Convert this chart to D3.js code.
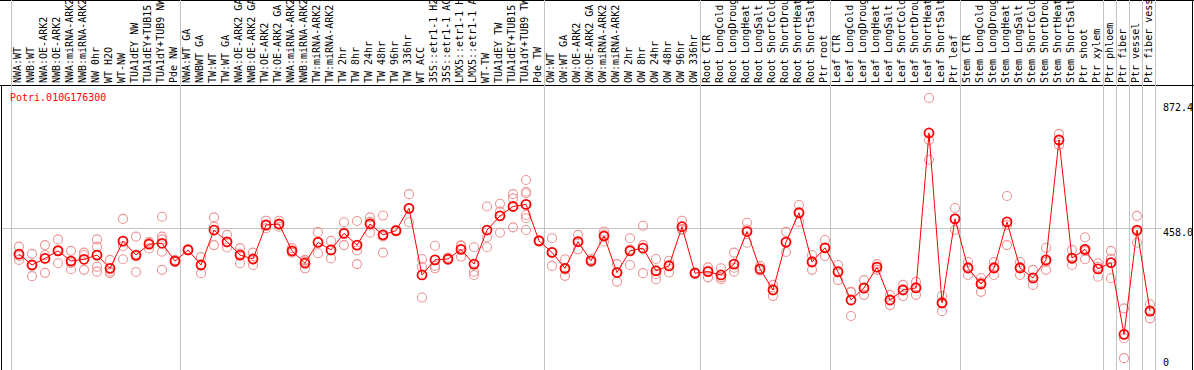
<!DOCTYPE html>
<html>
<head>
<meta charset="utf-8">
<script src="https://cdn.jsdelivr.net/npm/d3@7"></script>
<style>
  body { margin: 0; background: #fff; }
  svg { display: block; }
  text { font-family: "DejaVu Sans Mono", monospace; font-size: 10px; }
</style>
</head>
<body>
<div id="chart"></div>
<script>
// expression profile, one gene

const geneId = "Potri.010G176300";

const samples = [
    "NWA:WT", "NWB:WT", "NWA:OE-ARK2", "NWB:OE-ARK2", "NWA:miRNA-ARK2", "NWB:miRNA-ARK2",
    "NW 0hr", "WT H2O", "WT-NW", "TUA1dEY NW", "TUA1dEY+TUB15 NW", "TUA1dY+TUB9 NW", "Pde NW",
    "NWA:WT GA", "NWBWT GA", "TW:WT", "TW:WT GA", "NWA:OE-ARK2 GA", "NWB:OE-ARK2 GA",
    "TW:OE-ARK2", "TW:OE-ARK2 GA", "NWA:miRNA-ARK2 GA", "NWB:miRNA-ARK2 GA", "TW:miRNA-ARK2",
    "TW:miRNA-ARK2 GA", "TW 2hr", "TW 8hr", "TW 24hr", "TW 48hr", "TW 96hr", "TW 336hr", "WT ACC",
    "35S::etr1-1 H2O", "35S::etr1-1 ACC", "LMX5::etr1-1 H2O", "LMX5::etr1-1 ACC", "WT-TW",
    "TUA1dEY TW", "TUA1dEY+TUB15 TW", "TUA1dY+TUB9 TW", "Pde TW",
    "OW:WT", "OW:WT GA", "OW:OE-ARK2", "OW:OE-ARK2 GA", "OW:miRNA-ARK2", "OW:miRNA-ARK2 GA",
    "OW 2hr", "OW 8hr", "OW 24hr", "OW 48hr", "OW 96hr", "OW 336hr",
    "Root CTR", "Root LongCold", "Root LongDrought", "Root LongHeat", "Root LongSalt",
    "Root ShortCold", "Root ShortDrought", "Root ShortHeat", "Root ShortSalt", "Ptr root",
    "Leaf CTR", "Leaf LongCold", "Leaf LongDrought", "Leaf LongHeat", "Leaf LongSalt",
    "Leaf ShortCold", "Leaf ShortDrought", "Leaf ShortHeat", "Leaf ShortSalt", "Ptr leaf",
    "Stem CTR", "Stem LongCold", "Stem LongDrought", "Stem LongHeat", "Stem LongSalt",
    "Stem ShortCold", "Stem ShortDrought", "Stem ShortHeat", "Stem ShortSalt", "Ptr shoot",
    "Ptr xylem", "Ptr phloem", "Ptr fiber", "Ptr vessel", "Ptr fiber vessel"
];

// how many samples sit between two grey separators
const groupSizes = [13, 28, 12, 10, 10, 11, 1, 1, 1, 1];

const means = [
    371, 335, 357, 382, 348, 354, 368, 324, 414, 368, 404, 407, 348,
    385, 335, 451, 412, 368, 355, 468, 471, 382, 341, 410, 385, 440, 401, 471, 435,
    449, 523, 302, 352, 355, 387, 338, 451, 498, 529, 536, 415,
    377, 324, 412, 349, 431, 310, 382, 391, 316, 332, 462, 308,
    313, 302, 338, 446, 322, 252, 411, 508, 345, 392,
    312, 219, 259, 328, 219, 252, 259, 773, 209, 488,
    325, 272, 325, 478, 325, 292, 352, 750, 358, 387,
    322, 343, 105, 451, 182
];

const replicates = [
    [396, 352, 365], [372, 298, 335], [401, 368, 309], [420, 341, 385], [382, 321, 341],
    [376, 368, 319], [420, 396, 329, 313], [352, 313, 308], [488, 398, 354], [429, 363, 312],
    [412, 390, 408], [495, 429, 420, 379, 319], [352, 345, 348],
    [385, 383, 388], [361, 308, 336], [493, 462, 401], [435, 393, 410], [391, 341, 373],
    [376, 335, 354], [482, 457, 465], [482, 462, 469], [391, 376, 379], [352, 324, 347],
    [444, 374, 412], [415, 357, 383], [477, 401, 442], [481, 383, 338], [493, 442, 478],
    [499, 376, 430],
    [452, 446, 449], [570, 477, 523], [355, 329, 227], [399, 332, 324], [360, 352, 353],
    [399, 363, 400], [394, 313, 302], [529, 427, 394], [538, 512, 442], [570, 556, 460],
    [617, 578, 573, 501, 490, 451], [415, 412, 418],
    [424, 332, 376], [354, 299, 320], [435, 387, 415], [355, 344, 349], [446, 412, 436],
    [338, 280, 311], [424, 335, 386], [465, 401, 308], [355, 288, 305], [349, 310, 336],
    [482, 454, 451], [310, 305, 309],
    [327, 294, 317], [324, 288, 294], [376, 313, 326], [475, 409, 453], [332, 318, 316],
    [269, 232, 255], [445, 378, 411], [534, 478, 511], [368, 319, 348], [418, 365, 392],
    [335, 285, 316], [246, 166, 245], [285, 236, 256], [338, 319, 328], [236, 202, 219],
    [269, 232, 255], [279, 236, 262], [889, 750, 684], [232, 182, 212], [524, 451, 489],
    [345, 302, 328], [292, 246, 278], [345, 302, 328], [564, 468, 401], [345, 302, 328],
    [319, 269, 290], [392, 319, 345], [770, 733, 748], [385, 335, 355], [427, 354, 381],
    [341, 296, 329], [382, 291, 356], [191, 92, 26], [498, 409, 446], [205, 158, 184]
];

const yMax = 872.4;
const yLabels = [0, 458.0, 872.4];

const width = 1194, height = 370;
const headerY = 85;

const svg = d3.select("#chart").append("svg")
    .attr("width", width)
    .attr("height", height);

const x = d3.scalePoint()
    .domain(d3.range(samples.length))
    .range([19, 19 + 13 * (samples.length - 1)]);

const y = d3.scaleLinear()
    .domain([0, yMax])
    .range([366, 103]);

// frame (top + header rule + sides)
svg.append("line")
    .attr("x1", 0).attr("x2", width)
    .attr("y1", 0.5).attr("y2", 0.5)
    .attr("stroke", "#000");
svg.append("line")
    .attr("x1", 0).attr("x2", width)
    .attr("y1", headerY + 0.5).attr("y2", headerY + 0.5)
    .attr("stroke", "#000");
svg.append("line")
    .attr("x1", 1.5).attr("x2", 1.5)
    .attr("y1", headerY).attr("y2", height)
    .attr("stroke", "#000");
svg.append("line")
    .attr("x1", width - 1.5).attr("x2", width - 1.5)
    .attr("y1", 0).attr("y2", height)
    .attr("stroke", "#000");

// group separators
let bounds = [0];
groupSizes.forEach(s => bounds.push(bounds[bounds.length - 1] + s));
const sepX = b => b < samples.length ? x(b) - 8.5 : x(samples.length - 1) + 4.5;

svg.selectAll("line.sep")
    .data(bounds)
    .join("line")
    .attr("class", "sep")
    .attr("x1", d => Math.round(sepX(d)) + 0.5)
    .attr("x2", d => Math.round(sepX(d)) + 0.5)
    .attr("y1", 0)
    .attr("y2", height)
    .attr("stroke", "#c4c4c4")
    .attr("stroke-width", 1);

// mid gridline
svg.append("line")
    .attr("x1", 2)
    .attr("x2", 1162)
    .attr("y1", Math.round(y(458)) + 0.5)
    .attr("y2", Math.round(y(458)) + 0.5)
    .attr("stroke", "#c4c4c4");

// sample labels
svg.selectAll("text.lab")
    .data(samples)
    .join("text")
    .attr("class", "lab")
    .attr("transform", (d, i) => `translate(${x(i) + 2},${headerY - 2}) rotate(-90)`)
    .attr("fill", "#000")
    .text(d => d);

// y labels
svg.selectAll("text.ylab")
    .data(yLabels)
    .join("text")
    .attr("class", "ylab")
    .attr("x", 1163)
    .attr("y", d => d == 0 ? y(d) : y(d) + 8)
    .attr("fill", "#000")
    .text(d => d == 0 ? "0" : d.toFixed(1));

svg.append("text")
    .attr("x", 10)
    .attr("y", 101)
    .attr("fill", "#ff0000")
    .text(geneId);

// replicate circles
const repPts = [];
replicates.forEach((r, i) => r.forEach(v => repPts.push({ i: i, v: v })));

svg.selectAll("circle.rep")
    .data(repPts)
    .join("circle")
    .attr("class", "rep")
    .attr("cx", d => x(d.i))
    .attr("cy", d => y(d.v))
    .attr("r", 4.5)
    .attr("fill", "none")
    .attr("stroke", "#ee9494")
    .attr("stroke-width", 1.1);

// mean line
const line = d3.line()
    .x((d, i) => x(i))
    .y(d => y(d));

svg.append("path")
    .datum(means)
    .attr("d", line)
    .attr("fill", "none")
    .attr("stroke", "#ff0000")
    .attr("stroke-width", 1);

svg.selectAll("circle.mean")
    .data(means)
    .join("circle")
    .attr("class", "mean")
    .attr("cx", (d, i) => x(i))
    .attr("cy", d => y(d))
    .attr("r", 4.5)
    .attr("fill", "none")
    .attr("stroke", "#ff0000")
    .attr("stroke-width", 1.8);
</script>
</body>
</html>
